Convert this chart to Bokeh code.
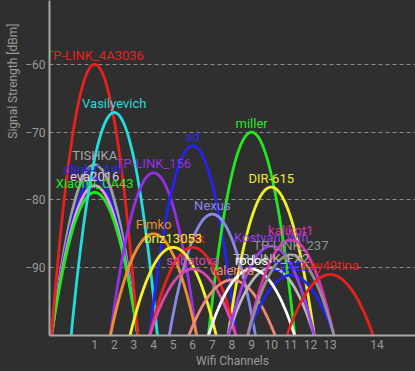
import numpy as np
from bokeh.plotting import figure
from bokeh.models import FixedTicker, Range1d, Title, GlobalInlineStyleSheet
from bokeh.core.properties import value
from bokeh.embed import file_html
from bokeh.resources import INLINE

# ---- data ----
names = ["TISHKA", "dlink-CA4E", "eva2016", "Xiaomi_CA43", "TP-LINK_4A3036",
         "Vasilyevich", "TP-LINK_156", "ad", "miller", "DIR-615", "Nexus",
         "Fimko", "Link", "briz13053", "sabatova", "valeriya",
         "TP-LINK_FX2", "ZyXEL", "rodos", "Kostyan_Wifi", "kalikot1",
         "TP-LINK_237", "Kay49tina"]
channels = [1, 1, 1, 1, 1,
            2, 4, 6, 9, 10, 7,
            4, 6, 5, 6, 8,
            10, 11, 9, 10, 11,
            11, 13]
levels = [-74.8, -76.8, -77.9, -78.9, -60.0,
          -67.1, -76.0, -72.0, -70.0, -78.1, -82.1,
          -85.0, -87.0, -87.0, -90.2, -91.8,
          -90.0, -91.1, -90.2, -86.8, -85.9,
          -88.1, -91.0]
colors = ["#a0a0a0", "#2424ee", "#e898e8", "#22e822", "#ea2020",
          "#22dede", "#9430e6", "#2424ee", "#22e822", "#f0f02a", "#8a8aea",
          "#f0902a", "#ea2020", "#f4f42a", "#d848a8", "#f08878",
          "#b8b8b8", "#2424ee", "#ffffff", "#9a40f0", "#e030b0",
          "#909090", "#ea2020"]
label_colors = ["#a8a8a8", "#2a2af0", "#f0c0f0", "#22e822", "#ea2020",
                "#22dede", "#9430e6", "#2a2af0", "#22e822", "#f0f02a", "#8a8aea",
                "#f0902a", "#ea2020", "#f4f42a", "#d848a8", "#f08878",
                "#b8b8b8", "#2a2af0", "#ffffff", "#9a40f0", "#e030b0",
                "#909090", "#ea2020"]

tick_positions = [1, 2, 3, 4, 5, 6, 7, 8, 9, 10, 11, 12, 13, 15.4]
tick_labels = ["1", "2", "3", "4", "5", "6", "7", "8", "9", "10", "11", "12", "13", "14"]
y_ticks = [-90, -80, -70, -60, -50]
half_width = 2.2  # channels (22 MHz band)

BG = "#2f2f2f"
FONT = "Roboto"
AXIS_TEXT = "#9a9a9a"

p = figure(width=415, height=371, output_backend="svg", toolbar_location=None,
           x_range=Range1d(-1.303, 17.357), y_range=Range1d(-100, -50.58),
           min_border_left=48, min_border_right=0, min_border_top=0,
           min_border_bottom=36)
p.stylesheets = [GlobalInlineStyleSheet(css=f"html, body {{ background-color: {BG}; overflow: hidden; }}")]
p.background_fill_color = BG
p.border_fill_color = BG
p.outline_line_color = None

# grid
p.xgrid.grid_line_color = None
p.ygrid.ticker = FixedTicker(ticks=y_ticks)
p.ygrid.grid_line_color = "#8c8c8c"
p.ygrid.grid_line_dash = "4 3"
p.ygrid.grid_line_width = 1

# axes
for ax in (p.xaxis[0], p.yaxis[0]):
    ax.axis_line_color = "#a8a8a8"
    ax.axis_line_width = 2
    ax.major_tick_line_color = None
    ax.minor_tick_line_color = None
    ax.major_tick_out = 0
    ax.major_tick_in = 0
    ax.major_label_text_color = AXIS_TEXT
    ax.major_label_text_font = FONT
    ax.major_label_text_font_size = "12px"
    ax.major_label_standoff = 4
p.xaxis.ticker = FixedTicker(ticks=tick_positions)
p.xaxis.major_label_overrides = {pos: lab for pos, lab in zip(tick_positions, tick_labels)}
p.xaxis.axis_label = "Wifi Channels"
p.xaxis.axis_label_standoff = 2
p.xaxis.axis_label_text_font = FONT
p.xaxis.axis_label_text_font_size = "12px"
p.xaxis.axis_label_text_font_style = "normal"
p.xaxis.axis_label_text_color = AXIS_TEXT
p.yaxis.ticker = FixedTicker(ticks=y_ticks)

# y-axis title, placed near the top as in the reference
p.add_layout(Title(text="Signal Strength [dBm]", align="right", offset=23,
                   text_font=FONT, text_font_size="12px", text_font_style="normal",
                   text_color=AXIS_TEXT, standoff=6), "left")

# curves
for ch, lv, col in zip(channels, levels, colors):
    xs = np.linspace(ch - half_width, ch + half_width, 80)
    u = (xs - ch) / half_width
    ys = lv - (lv + 100) * u ** 2
    p.line(xs, ys, line_color=col, line_width=2.8)

# labels
p.text(x=channels, y=levels, text=names, text_color=label_colors,
       text_font=value(FONT), text_font_size="13px",
       text_align="center", text_baseline="middle", y_offset=-9)

open("out.html", "w").write(file_html(p, INLINE))
